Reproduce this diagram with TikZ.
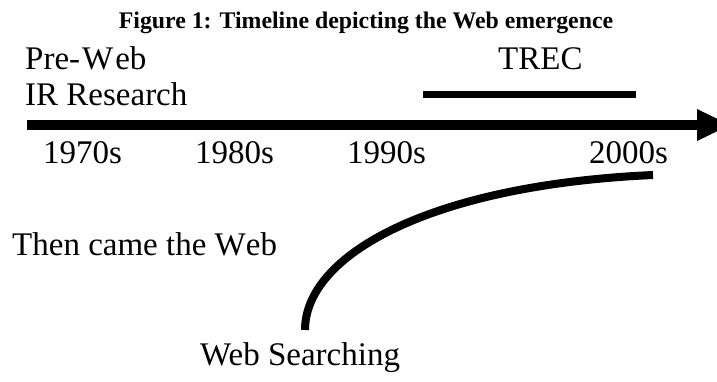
\documentclass[tikz,border=0pt]{standalone}
\usepackage{fontspec}
\setmainfont{Liberation Serif}
\begin{document}
\begin{tikzpicture}[x=1pt,y=-1pt,
  lbl/.style={inner sep=0pt,anchor=base west,font=\fontsize{33}{36}\selectfont},
  nokern/.style={font=\fontsize{33}{36}\selectfont\addfontfeatures{Kerning=Off}},
  ttl/.style={inner sep=0pt,anchor=base,font=\fontsize{23.8}{26}\selectfont\bfseries},
  thick line/.style={line width=#1,line cap=butt}]
\useasboundingbox (0,0) rectangle (717,381);
\clip (0,0) rectangle (717,381);
\node[ttl] (title) at (366,28.5) {Figure 1: Timeline depicting the Web emergence};
\node[lbl,nokern] (preweb) at (25,69) {Pre-\kern2pt W\kern2pt eb};
\node[lbl] (irres) at (25,105) {IR Research};
\node[lbl] (trec) at (498,69) {TREC};
\node[lbl] (y70) at (43,163) {1970s};
\node[lbl] (y80) at (195,163) {1980s};
\node[lbl] (y90) at (347,163) {1990s};
\node[lbl] (y00) at (589,163) {2000s};
\node[lbl,nokern] (then) at (12,255) {Then came the Web};
\node[lbl] (websearch) at (200,365) {Web Searching};
% timeline
\coordinate (ts) at (27,125);
\coordinate (te) at (700,125);
\coordinate (tip) at (730,125);
\draw[thick line=10pt] (ts) -- (te);
\fill (697,109) -- (tip) -- (697,141) -- cycle;
% TREC bar
\coordinate (bs) at (423,94.5);
\coordinate (be) at (636,94.5);
\draw[thick line=7pt] (bs) -- (be);
% curve
\coordinate (cs) at (305,330);
\coordinate (ce) at (653,175);
\draw[thick line=8pt] (cs) .. controls (305,255) and (430,185) .. (ce);
\end{tikzpicture}
\end{document}
